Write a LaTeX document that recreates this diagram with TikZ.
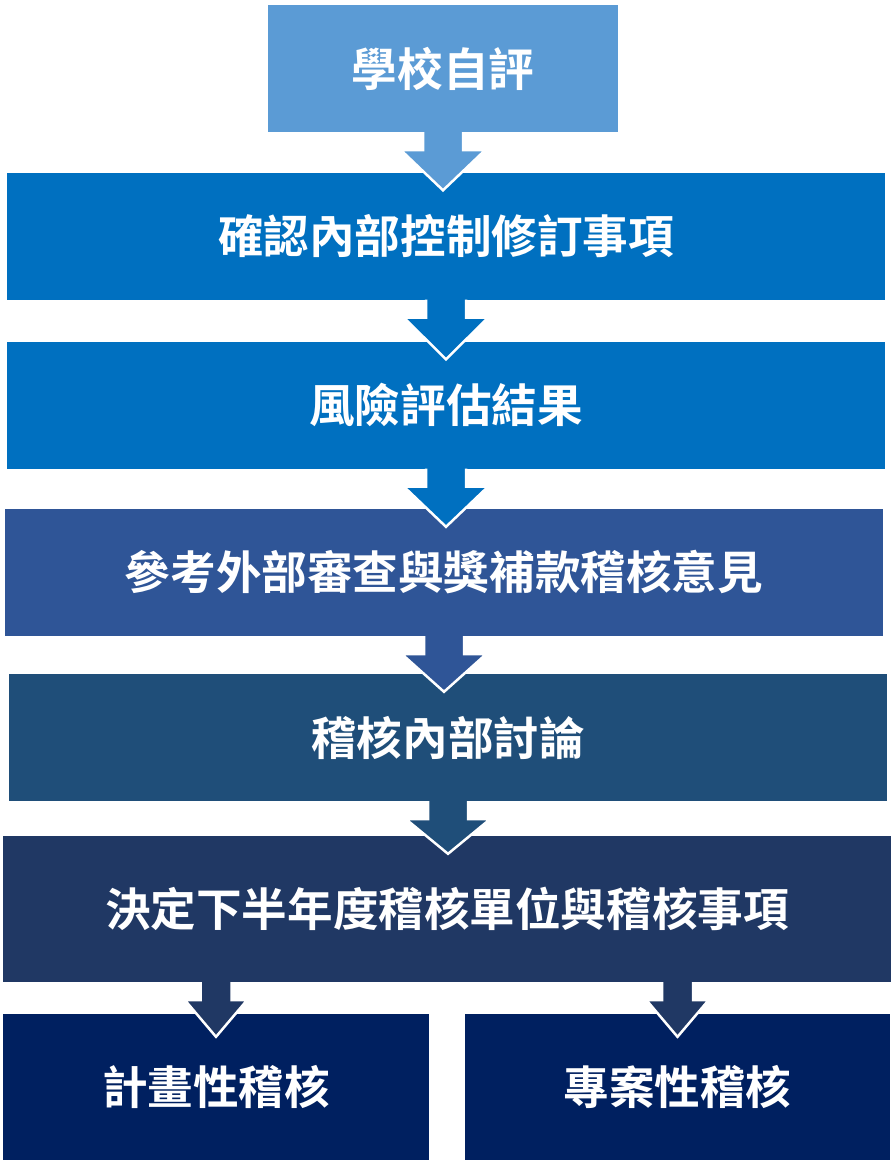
\documentclass[tikz,border=0pt]{standalone}
\usepackage{fontspec}
\setmainfont{Noto Sans CJK TC}[BoldFont={Noto Sans CJK TC Bold}]
\usetikzlibrary{calc}

\definecolor{skyblue}{HTML}{5B9BD5}
\definecolor{oceanblue}{HTML}{0070C0}
\definecolor{royalblue}{HTML}{2F5597}
\definecolor{steelnavy}{HTML}{1F4E79}
\definecolor{slatenavy}{HTML}{203864}
\definecolor{deepnavy}{HTML}{002060}

\def\shaftlen{18}

% block arrow: top point, tip, colour, half shaft, half head
\newcommand{\flowarrow}[5]{%
    \fill[#3] ($(#1)+(-#4,0)$) -- ($(#1)+(-#4,\shaftlen)$) -- ($(#1)+(-#5,\shaftlen)$) -- (#2)
        -- ($(#1)+(#5,\shaftlen)$) -- ($(#1)+(#4,\shaftlen)$) -- ($(#1)+(#4,0)$) -- cycle;
    \draw[rim] ($(#1)+(-#4,0)$) -- ($(#1)+(-#4,\shaftlen)$) -- ($(#1)+(-#5,\shaftlen)$) -- (#2)
        -- ($(#1)+(#5,\shaftlen)$) -- ($(#1)+(#4,\shaftlen)$) -- ($(#1)+(#4,0)$);
}

\begin{document}
\begin{tikzpicture}[x=1pt,y=-1pt,font=\bfseries\fontsize{45.6}{54}\selectfont,text=white]
    \tikzstyle{stage}=[rectangle,inner sep=0pt,minimum height=127pt]
    \tikzstyle{branch}=[stage,fill=deepnavy,minimum width=426pt,minimum height=146pt]
    \tikzstyle{rim}=[draw=white,line width=2.5pt,line join=miter]

    \useasboundingbox (0,0) rectangle (892,1160);

    \node[stage,fill=skyblue,minimum width=350pt] (self) at (443,68.5) {學校自評};
    \node[stage,fill=oceanblue,minimum width=878pt] (confirm) at (446,236) {確認內部控制修訂事項};
    \node[stage,fill=oceanblue,minimum width=878pt] (risk) at (446,405) {風險評估結果};
    \node[stage,fill=royalblue,minimum width=878pt] (external) at (444,572.5) {參考外部審查與獎補款稽核意見};
    \node[stage,fill=steelnavy,minimum width=878pt] (discuss) at (448,737.5) {稽核內部討論};
    \node[stage,fill=slatenavy,minimum width=888pt,minimum height=146pt] (decide) at (447,909) {決定下半年度稽核單位與稽核事項};

    \node[branch] (plan) at (216,1087) {計畫性稽核};
    \node[branch,minimum width=425pt] (project) at (677.5,1087) {專案性稽核};

    \foreach \up/\down/\col in {self/confirm/skyblue, confirm/risk/oceanblue, risk/external/oceanblue,
        external/discuss/royalblue, discuss/decide/steelnavy}
        \flowarrow{\up.south}{$(\up.south |- \down.north)+(0,18)$}{\col}{20}{42};

    \foreach \down in {plan,project}
        \flowarrow{\down.north |- decide.south}{$(\down.north)+(0,23)$}{slatenavy}{15.5}{31};
\end{tikzpicture}
\end{document}
